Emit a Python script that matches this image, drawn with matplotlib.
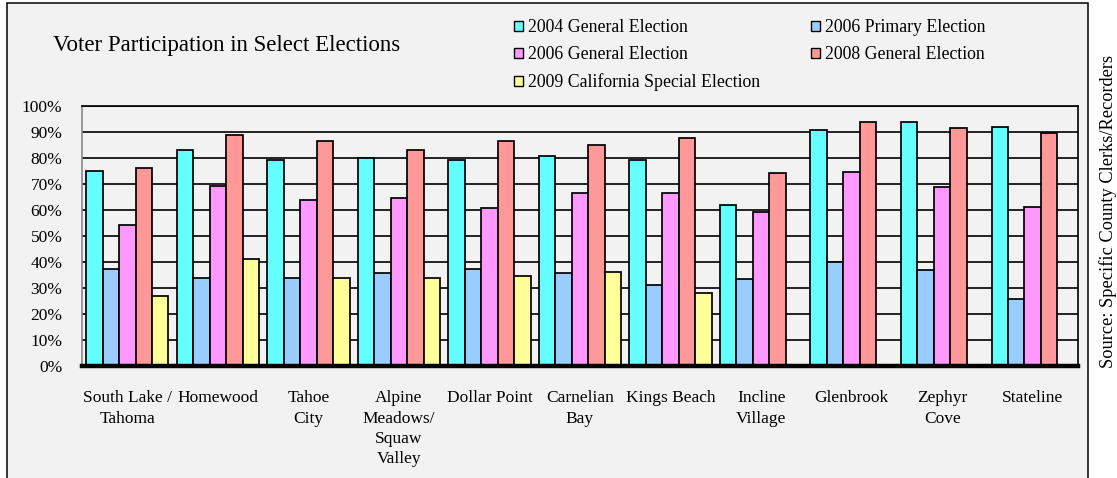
import numpy as np
import matplotlib
matplotlib.use("Agg")
import matplotlib.pyplot as plt
from matplotlib.patches import Rectangle, Patch
from matplotlib.ticker import PercentFormatter

# ---- data ----
categories = ["South Lake /\nTahoma", "Homewood", "Tahoe\nCity",
              "Alpine\nMeadows/\nSquaw\nValley", "Dollar Point", "Carnelian\nBay",
              "Kings Beach", "Incline\nVillage", "Glenbrook", "Zephyr\nCove", "Stateline"]
series_names = ["2004 General Election", "2006 Primary Election",
                "2006 General Election", "2008 General Election",
                "2009 California Special Election"]
gen2004 = [74.8, 83.2, 79.2, 79.9, 79.2, 80.6, 79.2, 61.7, 90.8, 94.0, 92.0]
pri2006 = [37.0, 33.9, 33.9, 35.8, 37.1, 35.5, 31.0, 33.5, 40.0, 36.8, 25.8]
gen2006 = [54.0, 69.0, 63.8, 64.4, 60.6, 66.3, 66.3, 59.2, 74.7, 68.9, 61.0]
gen2008 = [76.0, 89.0, 86.4, 83.2, 86.4, 85.0, 87.6, 74.0, 94.0, 91.6, 89.5]
spc2009 = [26.8, 41.0, 33.9, 33.9, 34.5, 36.2, 27.9, np.nan, np.nan, np.nan, np.nan]
yticks = [0, 10, 20, 30, 40, 50, 60, 70, 80, 90, 100]
colors = ["#66FFFF", "#99CCFF", "#FF99FF", "#FF9999", "#FFFF99"]

W, H = 1117, 478
plt.rcParams["font.family"] = ["Liberation Serif", "DejaVu Serif"]
fig = plt.figure(figsize=(W / 100, H / 100), dpi=100, facecolor="white")

# outer chart frame (light gray)
frame = Rectangle((7 / W, -0.05), (1088 - 7) / W, (H - 3) / H + 0.05,
                  transform=fig.transFigure, facecolor="#f2f2f2",
                  edgecolor="black", lw=1.1, zorder=-5)
fig.patches.append(frame)

ax = fig.add_axes([82 / W, (H - 365.5) / H, (1078 - 82) / W, (365.5 - 106) / H])
ax.set_zorder(2)
ax.set_facecolor("#f2f2f2")

data = [gen2004, pri2006, gen2006, gen2008, spc2009]
x = np.arange(len(categories))
w = 1 / 5.5
handles = []
for i, (vals, c, name) in enumerate(zip(data, colors, series_names)):
    ax.bar(x + (i - 2) * w, vals, width=w, color=c, edgecolor="black",
           linewidth=1.25, zorder=3)
    handles.append(Patch(facecolor=c, edgecolor="black", linewidth=1.0, label=name))

ax.set_xlim(-0.5, len(categories) - 0.5)
ax.set_ylim(0, 100)
ax.set_yticks(yticks)
ax.yaxis.set_major_formatter(PercentFormatter(decimals=0))
ax.yaxis.grid(True, color="black", lw=1.2, zorder=1)
ax.set_axisbelow(True)
ax.tick_params(axis="y", length=0, pad=14, labelsize=12.5)
ax.set_xticks(x)
ax.set_xticklabels(categories, fontsize=12.5, linespacing=1.35, va="top")
ax.tick_params(axis="x", length=0, pad=18)

for s in ["top", "right"]:
    ax.spines[s].set_color("black")
    ax.spines[s].set_linewidth(1.2)
ax.spines["left"].set_color("#808080")
ax.spines["left"].set_linewidth(1.1)
ax.spines["bottom"].set_color("black")
ax.spines["bottom"].set_linewidth(3.2)
ax.spines["bottom"].set_zorder(5)

# title
fig.text(53 / W, 1 - 45 / H, "Voter Participation in Select Elections",
         fontsize=16.5, ha="left", va="center")

# legend (two columns placed separately)
leg_kw = dict(frameon=False, fontsize=12.8, handlelength=0.48, handleheight=0.48,
              handletextpad=0.3, labelspacing=0.55, borderpad=0, borderaxespad=0,
              loc="upper left")
leg1 = fig.legend(handles=[handles[0], handles[2], handles[4]],
                  bbox_to_anchor=(514 / W, 1 - 19.5 / H), **leg_kw)
leg2 = fig.legend(handles=[handles[1], handles[3]],
                  bbox_to_anchor=(811 / W, 1 - 19.5 / H), **leg_kw)

# source note
fig.text(1108 / W, 1 - 212 / H, "Source: Specific County Clerks/Recorders",
         rotation=90, fontsize=13.2, ha="center", va="center")

fig.savefig("out.png", dpi=100, facecolor="white")
